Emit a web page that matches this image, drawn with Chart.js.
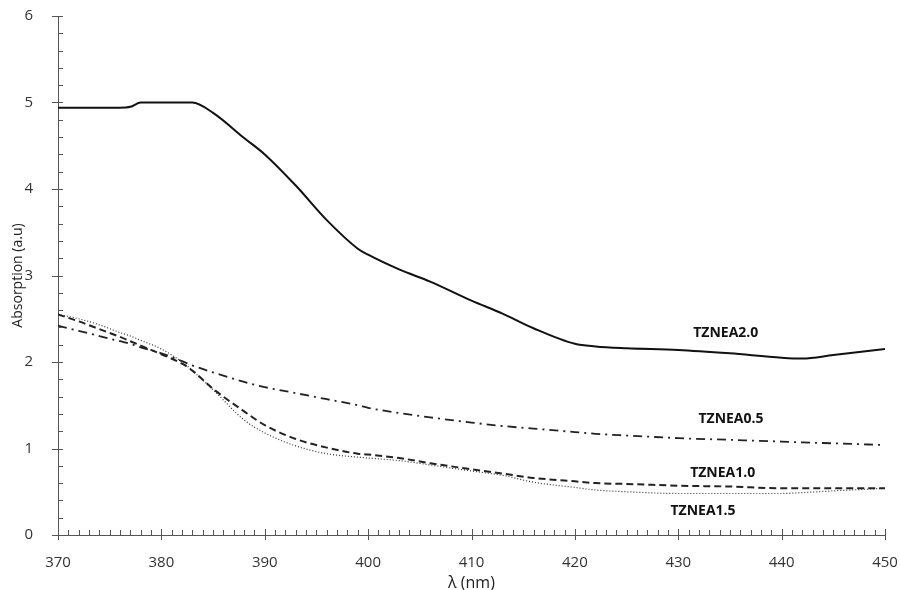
<!DOCTYPE html>
<html>
<head>
<meta charset="utf-8">
<script src="https://cdn.jsdelivr.net/npm/chart.js@4"></script>
<style>
  html, body { margin: 0; padding: 0; background: #fff; }
  #wrap { width: 900px; height: 590px; }
</style>
</head>
<body>
<div id="wrap"><canvas id="chart" width="900" height="590"></canvas></div>
<script>
// data
const wavelength = [370, 372, 374, 376, 377, 378, 380, 382, 383, 385, 388, 390, 393, 396, 399, 400, 403, 406, 410, 413, 416, 420, 422, 425, 430, 435, 440, 442, 445, 450];

const tznea20 = [4.94, 4.94, 4.94, 4.94, 4.95, 5.00, 5.00, 5.00, 5.00, 4.88, 4.59, 4.40, 4.04, 3.64, 3.31, 3.24, 3.07, 2.93, 2.71, 2.56, 2.39, 2.21, 2.18, 2.16, 2.14, 2.10, 2.05, 2.04, 2.08, 2.15];
const tznea05 = [2.42, 2.36, 2.30, 2.24, 2.21, 2.17, 2.10, 2.01, 1.96, 1.88, 1.77, 1.71, 1.64, 1.57, 1.50, 1.47, 1.41, 1.36, 1.30, 1.26, 1.23, 1.19, 1.17, 1.15, 1.12, 1.10, 1.08, 1.07, 1.06, 1.04];
const tznea10 = [2.55, 2.47, 2.38, 2.29, 2.24, 2.19, 2.09, 1.98, 1.90, 1.69, 1.43, 1.27, 1.11, 1.01, 0.94, 0.93, 0.89, 0.83, 0.76, 0.71, 0.66, 0.62, 0.60, 0.59, 0.57, 0.56, 0.54, 0.54, 0.54, 0.54];
const tznea15 = [2.55, 2.50, 2.43, 2.34, 2.30, 2.25, 2.15, 2.00, 1.90, 1.68, 1.33, 1.18, 1.03, 0.94, 0.90, 0.89, 0.86, 0.81, 0.74, 0.69, 0.61, 0.55, 0.52, 0.50, 0.48, 0.48, 0.48, 0.49, 0.51, 0.54];

const seriesNames = ['TZNEA2.0', 'TZNEA0.5', 'TZNEA1.0', 'TZNEA1.5'];
// where the curve names sit, in data units
const labelX = [434.6, 435.1, 434.3, 432.4];
const labelY = [2.34, 1.34, 0.72, 0.28];

const xTicks = [370, 380, 390, 400, 410, 420, 430, 440, 450];
const yTicks = [0, 1, 2, 3, 4, 5, 6];

function pts(vals) {
    return wavelength.map((w, i) => ({ x: w, y: vals[i] }));
}

// minor/major tick marks like the original
const tickMarks = {
    id: 'tickMarks',
    afterDraw(chart) {
        const ctx = chart.ctx;
        const xs = chart.scales.x, ys = chart.scales.y;
        const x0 = xs.left, y0 = ys.bottom;
        ctx.save();
        ctx.strokeStyle = '#555';
        ctx.lineWidth = 1;
        ctx.beginPath();
        for (let w = 370; w <= 450; w++) {
            const px = Math.round(xs.getPixelForValue(w)) + 0.5;
            if (w % 10 === 0) {
                ctx.moveTo(px, y0 - 6); ctx.lineTo(px, y0 + 5);
            } else {
                ctx.moveTo(px, y0 - 5); ctx.lineTo(px, y0);
            }
        }
        for (let k = 0; k <= 30; k++) {
            const v = k * 0.2;
            const py = Math.round(ys.getPixelForValue(v)) + 0.5;
            if (k % 5 === 0) {
                ctx.moveTo(x0 - 6, py); ctx.lineTo(x0 + 5, py);
            } else {
                ctx.moveTo(x0, py); ctx.lineTo(x0 + 5, py);
            }
        }
        ctx.stroke();

        // curve names
        ctx.fillStyle = '#111';
        ctx.font = 'bold 14px "Open Sans", sans-serif';
        ctx.textAlign = 'center';
        ctx.textBaseline = 'middle';
        seriesNames.forEach((n, i) => {
            ctx.fillText(n, xs.getPixelForValue(labelX[i]), ys.getPixelForValue(labelY[i]));
        });
        ctx.restore();
    }
};

const tickFont = { family: '"Open Sans", sans-serif', size: 15 };

new Chart(document.getElementById('chart'), {
    type: 'line',
    data: {
        datasets: [{
            label: seriesNames[0],
            data: pts(tznea20),
            borderColor: '#111',
            borderWidth: 2,
            cubicInterpolationMode: 'monotone'
        }, {
            label: seriesNames[1],
            data: pts(tznea05),
            borderColor: '#222',
            borderWidth: 1.8,
            borderDash: [9, 5, 2, 5],
            cubicInterpolationMode: 'monotone'
        }, {
            label: seriesNames[2],
            data: pts(tznea10),
            borderColor: '#222',
            borderWidth: 2,
            borderDash: [7, 4],
            cubicInterpolationMode: 'monotone'
        }, {
            label: seriesNames[3],
            data: pts(tznea15),
            borderColor: '#333',
            borderWidth: 1.2,
            borderDash: [1, 2],
            cubicInterpolationMode: 'monotone'
        }]
    },
    options: {
        responsive: false,
        maintainAspectRatio: false,
        animation: false,
        elements: { point: { radius: 0 } },
        layout: { padding: { top: 16, right: 15, left: 0, bottom: 0 } },
        plugins: {
            legend: { display: false },
            tooltip: { enabled: false }
        },
        scales: {
            x: {
                type: 'linear',
                min: 370,
                max: 450,
                afterBuildTicks: s => { s.ticks = xTicks.map(v => ({ value: v })); },
                afterFit: s => { s.height = 55; s.paddingLeft = 0; s.paddingRight = 0; },
                grid: { display: false },
                border: { display: true, color: '#555', width: 1 },
                ticks: { color: '#333', padding: 11, font: tickFont },
                title: { display: true, text: 'λ (nm)', color: '#222', padding: { top: 0, bottom: -3 }, font: { family: '"Open Sans", sans-serif', size: 16 } }
            },
            y: {
                min: 0,
                max: 6,
                afterBuildTicks: s => { s.ticks = yTicks.map(v => ({ value: v })); },
                afterFit: s => { s.width = 58; s.paddingTop = 0; s.paddingBottom = 0; },
                grid: { display: false },
                border: { display: true, color: '#555', width: 1 },
                ticks: { color: '#333', padding: 17, font: tickFont },
                title: { display: true, text: 'Absorption (a.u)', color: '#222', padding: { top: 10, bottom: 0 }, font: { family: '"Open Sans", sans-serif', size: 14 } }
            }
        }
    },
    plugins: [tickMarks]
});
</script>
</body>
</html>
